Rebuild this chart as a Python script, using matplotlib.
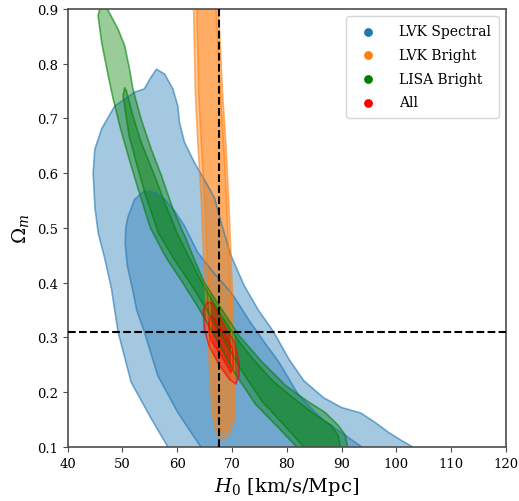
import matplotlib
matplotlib.use("Agg")
import matplotlib.pyplot as plt

plt.rcParams['font.family'] = 'DejaVu Serif'
plt.rcParams['mathtext.fontset'] = 'dejavuserif'

# reference values (dashed lines)
h0_ref = 67.7
om_ref = 0.31

# LVK Spectral contours (H0, Omega_m outlines)
spec_outer_h0 = [59.7, 58.3, 55.3, 51.6, 49.2, 48.0, 46.8, 45.6, 45.0, 44.65, 44.96, 46.2, 48.6, 52.2, 54.0,
                 55.0, 56.2, 57.7, 59.2, 60.1, 60.4, 61.3, 63.1, 64.9, 66.8, 68.3, 69.8, 72.2, 74.8,
                 77.6, 80.4, 83.1, 86.7, 90.0, 93.5, 96.1, 98.5, 100.9, 103.0, 106.5]
spec_outer_om = [0.08, 0.10, 0.151, 0.218, 0.310, 0.389, 0.443, 0.49, 0.535, 0.60, 0.644, 0.681, 0.723, 0.748, 0.754,
                 0.772, 0.790, 0.781, 0.754, 0.723, 0.693, 0.657, 0.620, 0.589, 0.555, 0.50, 0.45, 0.395, 0.35,
                 0.31, 0.26, 0.221, 0.19, 0.172, 0.162, 0.145, 0.127, 0.112, 0.10, 0.08]
spec_inner_h0 = [65.8, 64.3, 60.1, 56.45, 54.0, 52.6, 51.8, 50.9, 50.5, 50.6, 51.0, 52.2, 54.0, 56.0, 57.7, 59.6,
                 61.3, 63.7, 66.5, 70.0, 73.2, 76.0, 78.55, 82.2, 86.4, 90.7, 93.7, 96.6]
spec_inner_om = [0.08, 0.10, 0.163, 0.230, 0.310, 0.35, 0.39, 0.43, 0.47, 0.50, 0.52, 0.552, 0.568, 0.565, 0.553, 0.53,
                 0.504, 0.456, 0.42, 0.38, 0.33, 0.29, 0.255, 0.194, 0.151, 0.121, 0.10, 0.08]

# LVK Bright contours
bright_outer_h0 = [62.9, 63.0, 63.3, 63.8, 64.4, 64.8, 65.2, 65.6, 66.0, 66.4, 67.0, 67.8, 68.6, 69.6,
                   70.4, 70.4, 70.2, 69.8, 69.4, 68.9, 68.3, 67.8, 67.5, 67.4]
bright_outer_om = [0.95, 0.9, 0.75, 0.65, 0.55, 0.45, 0.38, 0.3, 0.22, 0.16, 0.13, 0.115, 0.115, 0.125,
                   0.15, 0.25, 0.35, 0.45, 0.55, 0.65, 0.74, 0.84, 0.9, 0.95]
bright_inner_h0 = [63.5, 63.6, 63.9, 64.4, 65.0, 65.4, 65.8, 66.2, 66.6, 67.0, 67.5, 68.0, 68.6, 69.4,
                   70.0, 70.0, 69.8, 69.4, 69.0, 68.5, 67.9, 67.4, 67.1, 67.0]
bright_inner_om = [0.95, 0.9, 0.75, 0.65, 0.55, 0.45, 0.38, 0.3, 0.22, 0.17, 0.14, 0.128, 0.128, 0.138,
                   0.16, 0.25, 0.35, 0.45, 0.55, 0.65, 0.74, 0.84, 0.9, 0.95]

# LISA Bright contours
lisa_outer_h0 = [46.0, 45.55, 46.2, 47.4, 48.3, 49.5, 51.1, 52.9, 55.1, 57.9, 61.0, 64.0, 67.0, 70.5,
                 74.3, 78.5, 81.8, 82.8, 91.4, 91.1, 90.7, 89.45, 87.0, 84.0, 79.8, 75.5, 71.3, 67.7,
                 64.9, 63.1, 61.6, 59.2, 57.1, 55.25, 53.4, 51.9, 51.3, 50.4, 49.2, 47.4, 46.6]
lisa_outer_om = [0.905, 0.888, 0.839, 0.778, 0.736, 0.687, 0.63, 0.57, 0.50, 0.447, 0.40, 0.352, 0.300, 0.235,
                 0.178, 0.135, 0.10, 0.085, 0.085, 0.10, 0.121, 0.139, 0.163, 0.182, 0.212, 0.255, 0.303, 0.358,
                 0.401, 0.443, 0.480, 0.535, 0.596, 0.644, 0.699, 0.754, 0.790, 0.833, 0.863, 0.897, 0.906]
lisa_inner_h0 = [50.4, 50.1, 51.2, 52.5, 54.2, 56.6, 59.3, 62.3, 65.3, 68.3, 71.7, 75.5, 79.5, 83.1,
                 84.0, 90.0, 89.75, 89.4, 88.2, 84.6, 80.5, 77.5, 73.9, 71.5, 68.0, 64.5, 62.0, 60.0,
                 57.7, 55.85, 53.4, 51.9, 50.7]
lisa_inner_om = [0.755, 0.742, 0.669, 0.62, 0.56, 0.49, 0.445, 0.40, 0.352, 0.300, 0.24, 0.183, 0.14, 0.10,
                 0.085, 0.085, 0.10, 0.12, 0.139, 0.163, 0.195, 0.22, 0.26, 0.29, 0.34, 0.40, 0.45, 0.49,
                 0.547, 0.596, 0.657, 0.705, 0.751]

# All combined contours
all_outer_h0 = [65.5, 64.75, 64.9, 65.8, 67.7, 69.5, 70.7, 71.3, 71.3, 70.4, 68.9, 67.3, 66.4]
all_outer_om = [0.364, 0.352, 0.316, 0.285, 0.249, 0.224, 0.215, 0.230, 0.255, 0.292, 0.316, 0.346, 0.363]
all_inner_h0 = [66.15, 65.7, 66.15, 67.7, 68.9, 69.8, 70.25, 70.1, 68.9, 68.0, 66.9]
all_inner_om = [0.339, 0.322, 0.294, 0.273, 0.252, 0.236, 0.249, 0.279, 0.303, 0.316, 0.334]

labels = ['LVK Spectral', 'LVK Bright', 'LISA Bright', 'All']
colors = ['tab:blue', 'tab:orange', 'green', 'red']

fig = plt.figure(figsize=(5.19, 5.02), dpi=100)
ax = fig.add_axes([0.1304, 0.1076, 0.8445, 0.8725])

contours = [
    (spec_outer_h0, spec_outer_om, spec_inner_h0, spec_inner_om),
    (bright_outer_h0, bright_outer_om, bright_inner_h0, bright_inner_om),
    (lisa_outer_h0, lisa_outer_om, lisa_inner_h0, lisa_inner_om),
    (all_outer_h0, all_outer_om, all_inner_h0, all_inner_om),
]
for (oh, oo, ih, io), c in zip(contours, colors):
    for h, o in [(oh, oo), (ih, io)]:
        ax.fill(h, o, facecolor=c, edgecolor='none', alpha=0.4)
        ax.plot(h + h[:1], o + o[:1], color=c, alpha=0.6, lw=1.2)

for lab, c in zip(labels, colors):
    ax.scatter([], [], color=c, s=28, label=lab)

ax.axvline(h0_ref, color='k', ls='--', lw=1.5, zorder=5)
ax.axhline(om_ref, color='k', ls='--', lw=1.5, zorder=5)

ax.set_xlim(40, 120)
ax.set_ylim(0.1, 0.9)
ax.set_xticks(range(40, 121, 10))
ax.set_yticks([0.1, 0.2, 0.3, 0.4, 0.5, 0.6, 0.7, 0.8, 0.9])
ax.tick_params(labelsize=9.5, color='0.3')
for s in ax.spines.values():
    s.set_color('0.3')
    s.set_linewidth(1.2)

ax.set_xlabel(r'$H_0$ [km/s/Mpc]', fontsize=14)
ax.set_ylabel(r'$\Omega_m$', fontsize=14)
ax.legend(loc='upper right', fontsize=10, labelspacing=0.7, handletextpad=1.2, borderpad=0.6)

fig.savefig('out.png', dpi=100)
